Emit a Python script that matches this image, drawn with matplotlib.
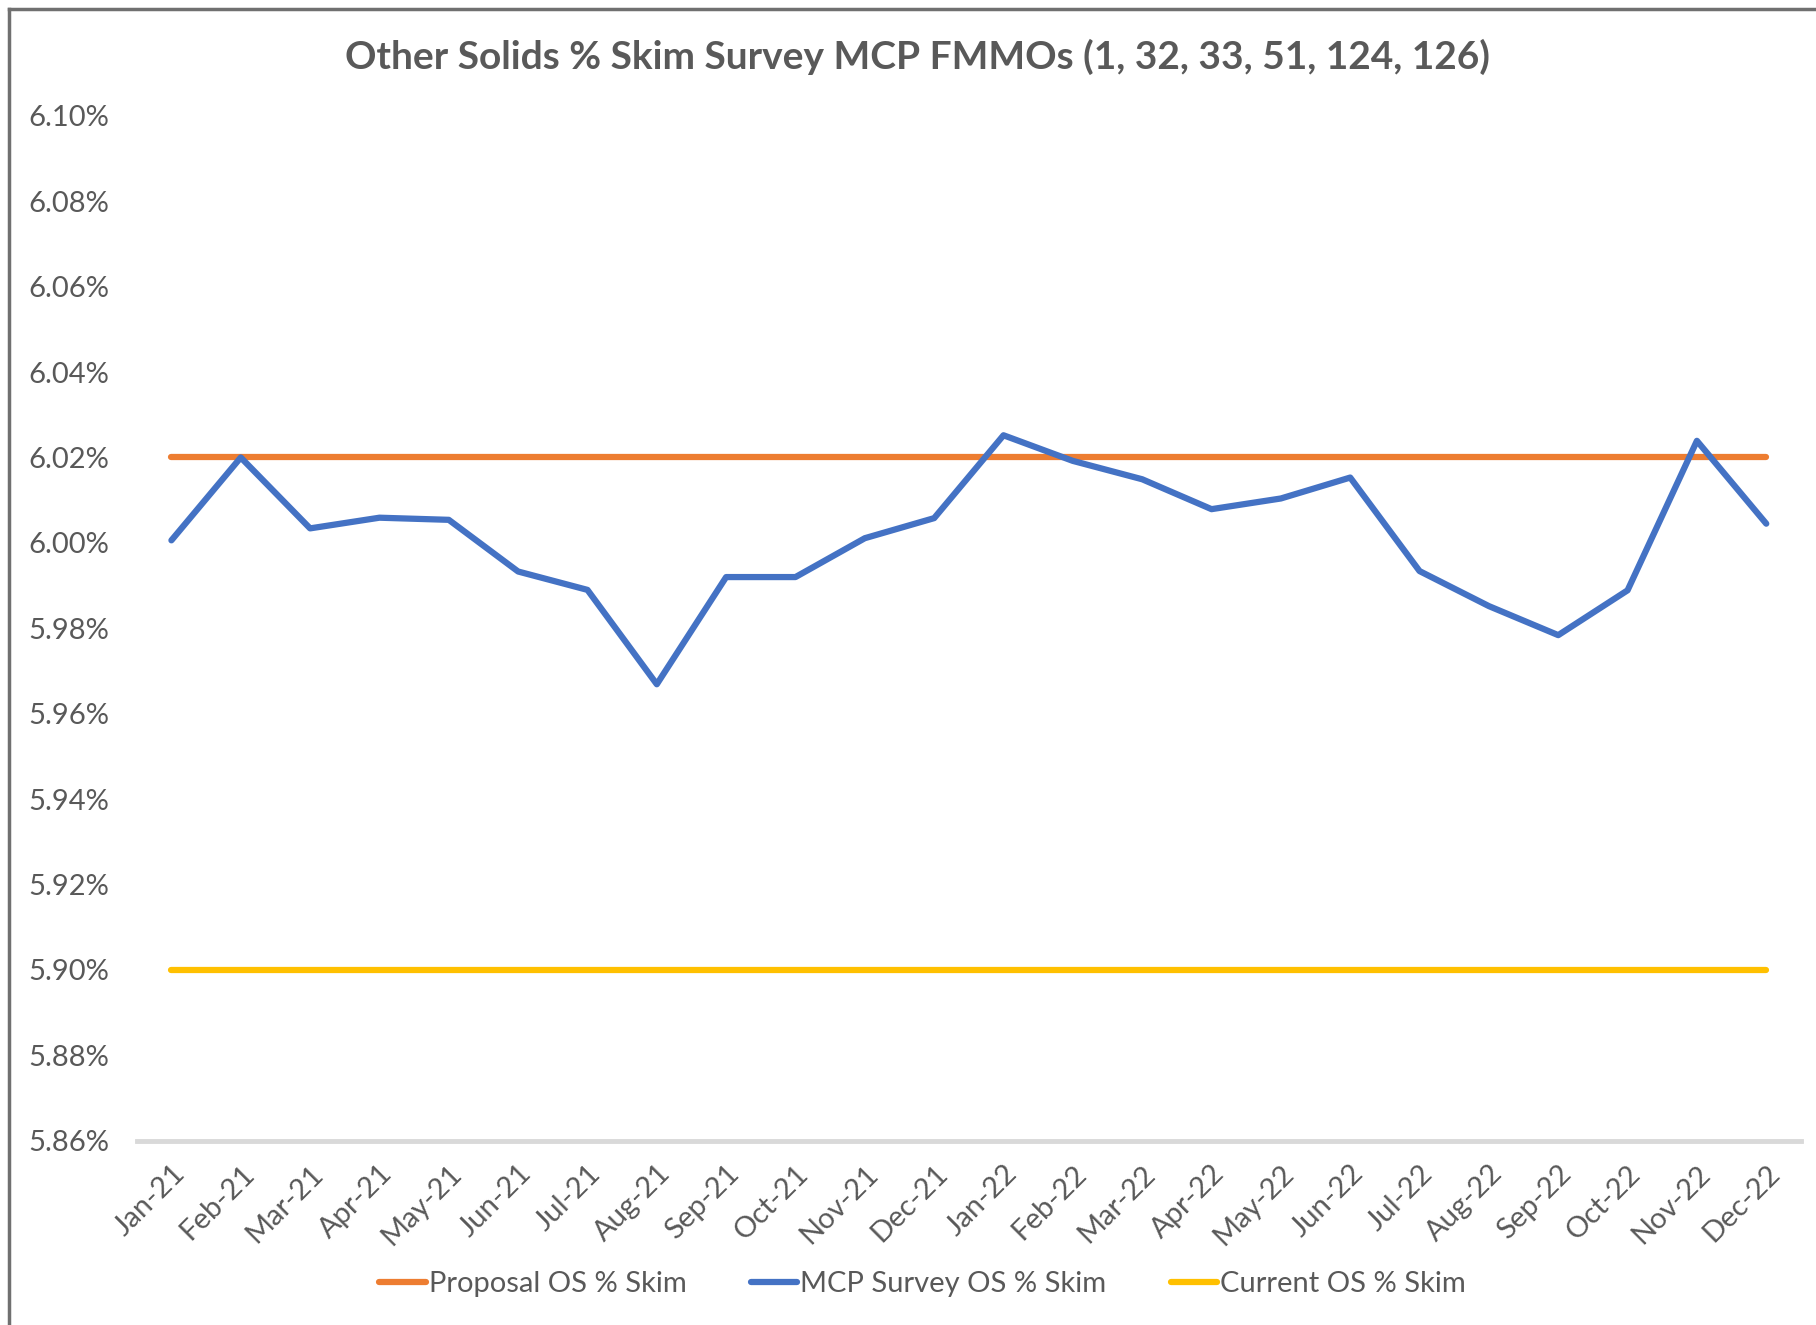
import matplotlib
matplotlib.use('Agg')
import matplotlib.pyplot as plt
from matplotlib.lines import Line2D
from matplotlib.ticker import FuncFormatter

plt.rcParams['font.family'] = ['Lato', 'DejaVu Sans']

months = ['Jan-21', 'Feb-21', 'Mar-21', 'Apr-21', 'May-21', 'Jun-21', 'Jul-21', 'Aug-21',
          'Sep-21', 'Oct-21', 'Nov-21', 'Dec-21', 'Jan-22', 'Feb-22', 'Mar-22', 'Apr-22',
          'May-22', 'Jun-22', 'Jul-22', 'Aug-22', 'Sep-22', 'Oct-22', 'Nov-22', 'Dec-22']
mcp_survey = [6.0006, 6.0200, 6.0034, 6.0059, 6.0054, 5.9933, 5.9890, 5.9669,
              5.9920, 5.9920, 6.0011, 6.0058, 6.0252, 6.0192, 6.0149, 6.0079,
              6.0104, 6.0153, 5.9934, 5.9852, 5.9784, 5.9889, 6.0239, 6.0045]
proposal = [6.02] * len(months)
current = [5.90] * len(months)

txt = '#595959'
fig = plt.figure(figsize=(18.16, 13.25), dpi=100)
ax = fig.add_axes([0.0753, 0.139, 0.9164, 0.7736])

x = list(range(len(months)))
ax.plot(x, proposal, color='#ED7D31', lw=4.5, solid_capstyle='round', label='Proposal OS % Skim')
ax.plot(x, mcp_survey, color='#4472C4', lw=4.5, solid_capstyle='round', solid_joinstyle='round',
        label='MCP Survey OS % Skim')
ax.plot(x, current, color='#FFC000', lw=4.5, solid_capstyle='round', label='Current OS % Skim')

ax.set_xlim(-0.5, len(months) - 0.5)
ax.set_ylim(5.86, 6.10)
ax.set_yticks([5.86 + 0.02 * i for i in range(13)])
ax.yaxis.set_major_formatter(FuncFormatter(lambda v, p: f'{v:.2f}%'))
ax.set_xticks(x)
ax.set_xticklabels(months, rotation=45, ha='right', rotation_mode='anchor')
ax.tick_params(axis='both', length=0, colors=txt, labelsize=21)
ax.tick_params(axis='x', pad=14)
ax.tick_params(axis='y', pad=20)
for s in ['top', 'right', 'left']:
    ax.spines[s].set_visible(False)
ax.spines['bottom'].set_color('#d9d9d9')
ax.spines['bottom'].set_linewidth(3.5)

fig.text(0.5055, 0.957, 'Other Solids % Skim Survey MCP FMMOs (1, 32, 33, 51, 124, 126)',
         ha='center', va='center', fontsize=28, fontweight='bold', color=txt)

fig.legend(loc='center', bbox_to_anchor=(0.508, 0.031), ncol=3, frameon=False,
           fontsize=21, labelcolor=txt, handlelength=1.6, handletextpad=0.1, columnspacing=2.2)

# chart frame (partially cropped in the source)
fig.add_artist(Line2D([0.005, 1.0], [0.993, 0.993], color='#707070', lw=2.5, transform=fig.transFigure))
fig.add_artist(Line2D([0.005, 0.005], [0.0, 0.993], color='#707070', lw=2.5, transform=fig.transFigure))

fig.savefig('out.png', dpi=100, facecolor='white')
